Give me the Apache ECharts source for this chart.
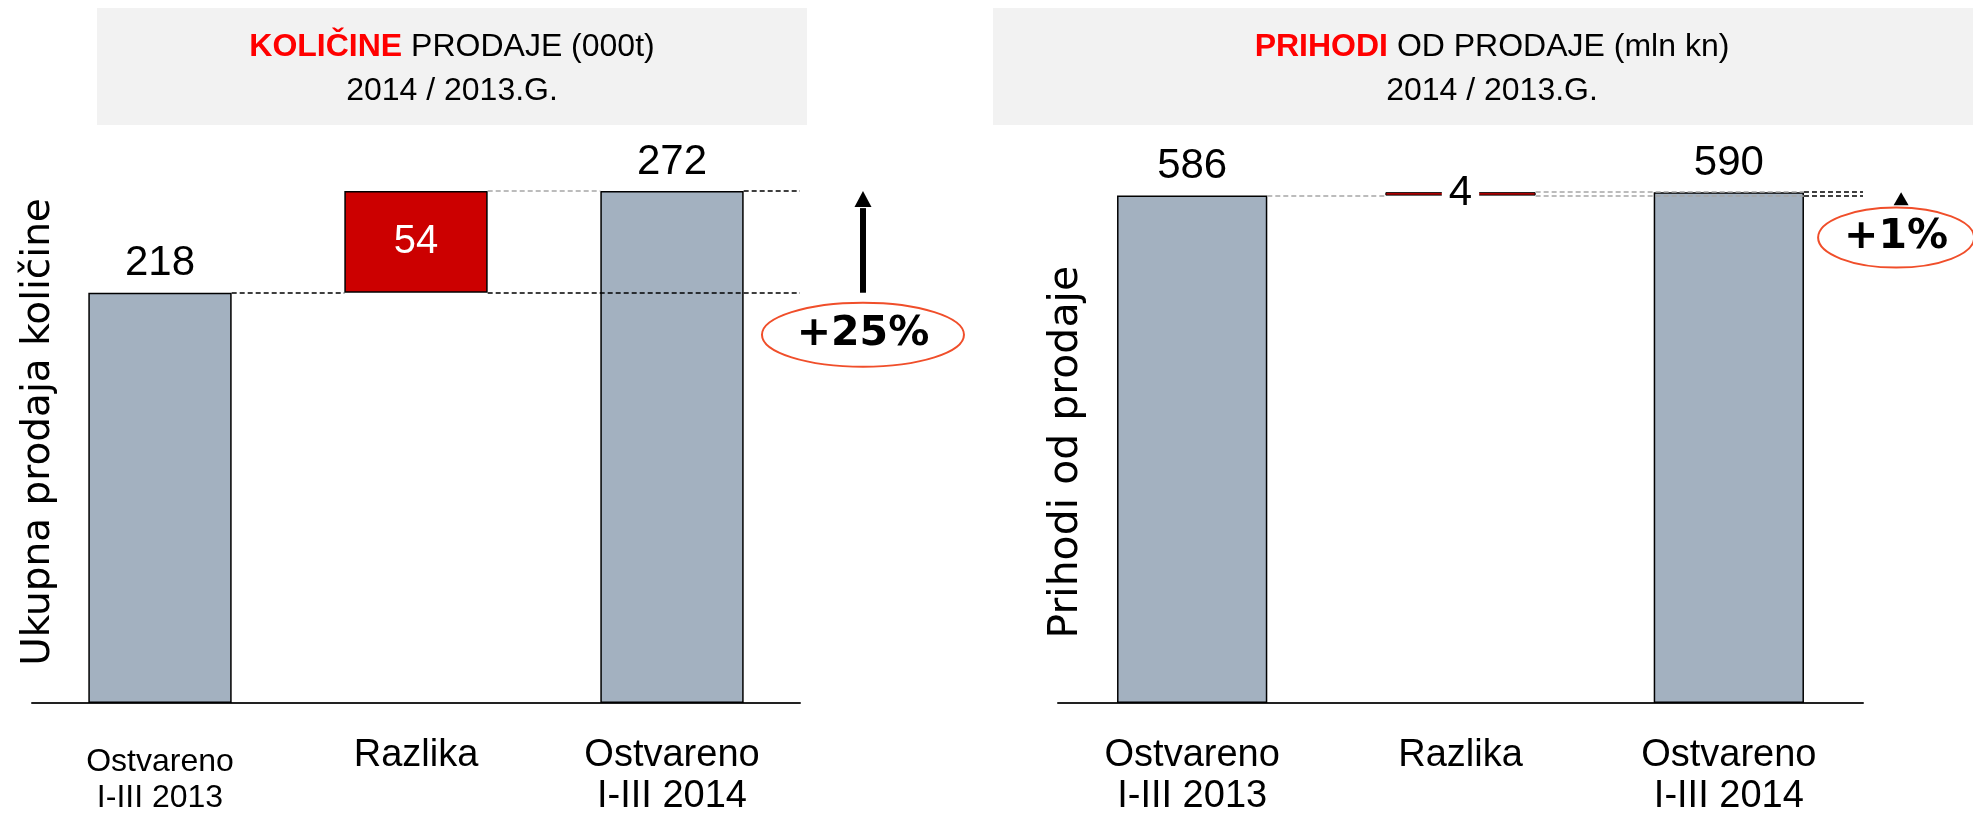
<!DOCTYPE html>
<html>
<head>
  <meta charset="UTF-8">
  <title>Količine i prihodi od prodaje 2014 / 2013</title>
  <script src="https://cdn.jsdelivr.net/npm/echarts@6/dist/echarts.min.js"></script>
  <style>
    * { margin: 0; padding: 0; }
    body { background: #fff; }
    #main { width: 1973px; height: 817px; }
  </style>
</head>
<body>
<div id="main"></div>
<script>
// --- podaci ---
var categories = ['Ostvareno\nI-III 2013', 'Razlika', 'Ostvareno\nI-III 2014'];
var kolicine = [218, 54, 272];   // 000t: start, razlika, kraj
var prihodi = [586, 4, 590];     // mln kn: start, razlika, kraj

var GRAY = '#A3B1C0', RED = '#CC0000';
var TXT = "'Liberation Sans', Arial, sans-serif";
var NAME = "'DejaVu Sans', Verdana, sans-serif";

var dark = { color: '#000', width: 1.5, type: [5, 3], opacity: 1 };
var light = { color: '#A6A6A6', width: 1.5, type: [5, 3], opacity: 1 };

// isprekidane spojnice: [x od, x do, indeks vrijednosti, stil]
var spojLijevo = [[0.28, 0.72, 0, dark], [1.28, 2.781, 0, dark], [1.28, 1.72, 2, light], [2.28, 2.781, 2, dark]];
var spojDesno = [[0.28, 0.72, 0, light], [1.28, 2.28, 0, light], [2.28, 2.668, 0, dark], [1.28, 2.28, 2, light], [2.28, 2.668, 2, dark]];

function strelica(cfg) {
  return function (params, api) {
    var x = api.value(0), v0 = api.value(1), v1 = api.value(2);
    var p0 = api.coord([x, v0]), p1 = api.coord([x, v1]);
    var baseY = p1[1] + cfg.headLen;
    var ch = [];
    if (p0[1] > baseY) {
      ch.push({ type: 'line', shape: { x1: p0[0], y1: p0[1], x2: p0[0], y2: baseY + 1 }, style: { stroke: '#000', lineWidth: cfg.shaft } });
    }
    ch.push({ type: 'polygon', shape: { points: [[p1[0], p1[1]], [p1[0] - cfg.headW / 2, baseY], [p1[0] + cfg.headW / 2, baseY]] }, style: { fill: '#000' } });
    var cx = p0[0] + cfg.dx, cy = p0[1] + 42;
    ch.push({ type: 'ellipse', shape: { cx: cx, cy: cy, rx: cfg.rx, ry: cfg.ry }, style: { fill: 'none', stroke: '#F04E2A', lineWidth: 2 } });
    var pct = Math.round((v1 - v0) / v0 * 100);
    ch.push({ type: 'text', style: { text: (pct >= 0 ? '+' : '') + pct + '%', x: cx, y: cy, align: 'center', verticalAlign: 'middle', font: 'bold 41px "DejaVu Sans"', fill: '#000' } });
    return { type: 'group', children: ch };
  };
}

function serije(g, vals, spoj, diffLabel, diffBorder, arrowX, arrowCfg) {
  var base = [0, Math.min(vals[0], vals[2]), 0];
  return [
    { type: 'bar', xAxisIndex: g * 2, yAxisIndex: g, stack: 's' + g, barWidth: '56%', silent: true,
      itemStyle: { color: 'transparent', borderWidth: 0 }, data: base },
    { type: 'bar', xAxisIndex: g * 2, yAxisIndex: g, stack: 's' + g, barWidth: '56%', silent: true,
      itemStyle: { borderColor: '#000', borderWidth: 1.5 },
      label: { show: true, position: 'top', distance: 8, fontFamily: TXT, fontSize: 42, color: '#000' },
      data: vals.map(function (v, i) {
        return i === 1
          ? { value: v, itemStyle: { color: RED, borderWidth: diffBorder }, label: diffLabel }
          : { value: v, itemStyle: { color: GRAY } };
      }) },
    { type: 'lines', coordinateSystem: 'cartesian2d', xAxisIndex: g * 2 + 1, yAxisIndex: g, z: 5, silent: true,
      data: spoj.map(function (s) {
        return { coords: [[s[0], vals[s[2]]], [s[1], vals[s[2]]]], lineStyle: s[3] };
      }) },
    { type: 'custom', xAxisIndex: g * 2 + 1, yAxisIndex: g, z: 6, silent: true,
      renderItem: strelica(arrowCfg), data: [[arrowX, vals[0], vals[2]]] }
  ];
}

function xOsi(g, data) {
  return [
    { gridIndex: g, type: 'category', data: data,
      axisLine: { lineStyle: { color: '#222', width: 2 } }, axisTick: { show: false },
      axisLabel: { interval: 0, margin: 32, fontFamily: TXT, fontSize: 38, lineHeight: 41, color: '#000' } },
    { gridIndex: g, type: 'value', min: -0.5, max: 2.5, show: false }
  ];
}

function yOs(g, max, name, gap, size, pad) {
  return { gridIndex: g, type: 'value', min: 0, max: max, name: name, nameLocation: 'middle', nameRotate: 90, nameGap: gap,
    nameTextStyle: { fontFamily: NAME, fontSize: size, color: '#000', padding: pad },
    axisLine: { show: false }, axisTick: { show: false }, axisLabel: { show: false }, splitLine: { show: false } };
}

var catLijevo = [{ value: categories[0], textStyle: { fontSize: 32, lineHeight: 36, padding: [9, 0, 0, 0] } }, categories[1], categories[2]];

var chart = echarts.init(document.getElementById('main'));
chart.setOption({
  animation: false,
  graphic: [
    { type: 'rect', z: -1, shape: { x: 97, y: 8, width: 710, height: 117 }, style: { fill: '#F2F2F2' } },
    { type: 'rect', z: -1, shape: { x: 993, y: 8, width: 980, height: 117 }, style: { fill: '#F2F2F2' } }
  ],
  title: [
    { text: '{r|KOLIČINE} PRODAJE (000t)\n2014 / 2013.G.', left: 452, top: 25, textAlign: 'center', padding: 0,
      textStyle: { fontFamily: TXT, fontSize: 32, fontWeight: 'normal', color: '#000', lineHeight: 44,
        rich: { r: { fontFamily: TXT, fontSize: 32, fontWeight: 'bold', color: '#FF0000', lineHeight: 44 } } } },
    { text: '{r|PRIHODI} OD PRODAJE (mln kn)\n2014 / 2013.G.', left: 1492, top: 25, textAlign: 'center', padding: 0,
      textStyle: { fontFamily: TXT, fontSize: 32, fontWeight: 'normal', color: '#000', lineHeight: 44,
        rich: { r: { fontFamily: TXT, fontSize: 32, fontWeight: 'bold', color: '#FF0000', lineHeight: 44 } } } }
  ],
  grid: [
    { left: 32, top: 161, width: 768, height: 546 },
    { left: 1058, top: 183.5, width: 805, height: 523.5 }
  ],
  xAxis: xOsi(0, catLijevo).concat(xOsi(1, categories)),
  yAxis: [
    yOs(0, 288, 'Ukupna prodaja količine', -26, 39, 0),
    yOs(1, 600, 'Prihodi od prodaje', -29, 41, [0, 18, 0, 0])
  ],
  series: serije(0, kolicine, spojLijevo,
      { show: true, position: 'inside', color: '#fff', fontSize: 40 }, 1.5,
      2.746, { headLen: 16, headW: 17, shaft: 6, dx: 0, rx: 101, ry: 32 })
    .concat(serije(1, prihodi, spojDesno,
      { show: true, position: 'inside', color: '#000', fontSize: 42, backgroundColor: '#fff', padding: [0, 7] }, 1,
      2.642, { headLen: 13, headW: 15, shaft: 0, dx: -5, rx: 78, ry: 30 }))
});
</script>
</body>
</html>
